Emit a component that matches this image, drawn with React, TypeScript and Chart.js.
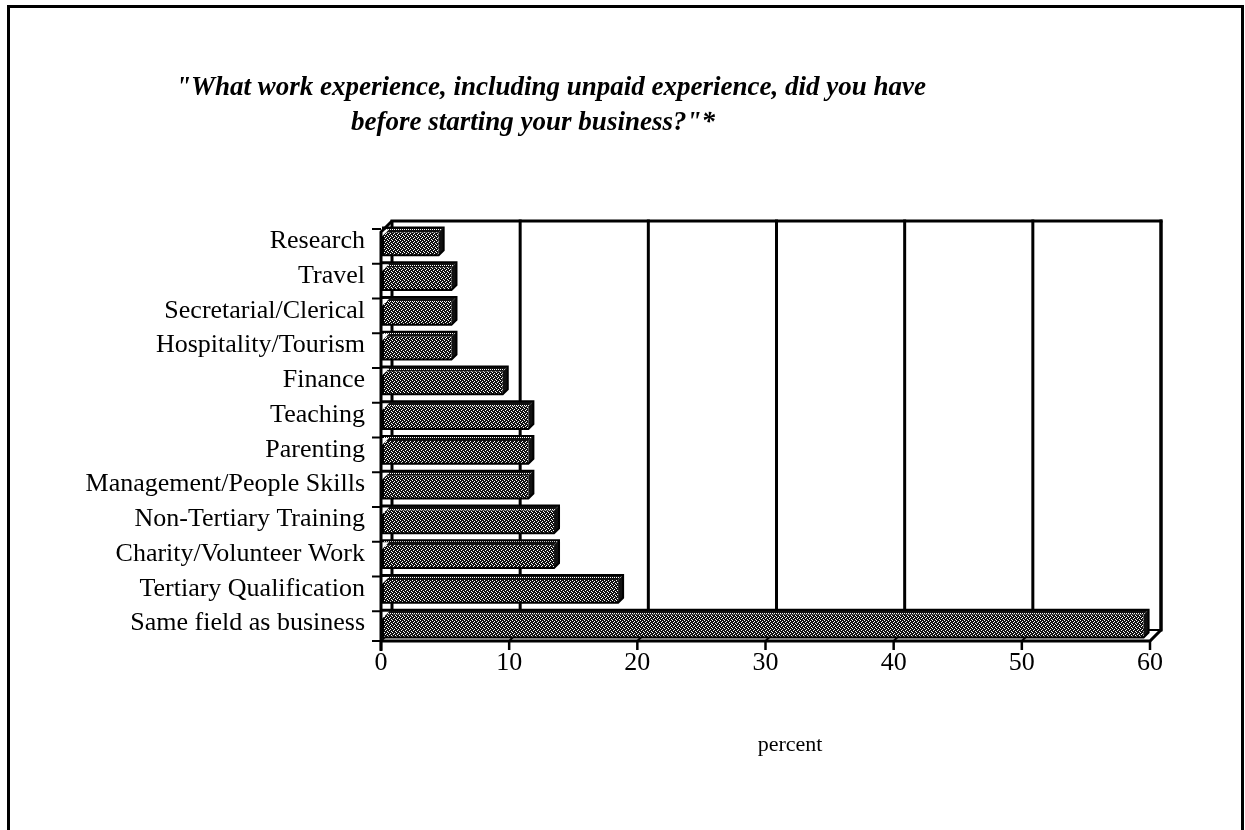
import React, { useEffect, useRef } from "react";
import { Chart, registerables } from "chart.js";

Chart.register(...registerables);

const categories = [
  "Research",
  "Travel",
  "Secretarial/Clerical",
  "Hospitality/Tourism",
  "Finance",
  "Teaching",
  "Parenting",
  "Management/People Skills",
  "Non-Tertiary Training",
  "Charity/Volunteer Work",
  "Tertiary Qualification",
  "Same field as business",
];

const percentValues = [4.5, 5.5, 5.5, 5.5, 9.5, 11.5, 11.5, 11.5, 13.5, 13.5, 18.5, 59.5];

const xTicks = [0, 10, 20, 30, 40, 50, 60];

const titleLines = [
  '"What work experience, including unpaid experience, did you have',
  'before starting your business?"*',
];

const axisTitle = "percent";

const SERIF = '"Liberation Serif", "Times New Roman", serif';
const DEPTH = 11; // depth of the back wall
const BAR_DEPTH = 5; // depth of each bar

function makePattern(ctx: CanvasRenderingContext2D, dots: number[][]) {
  const c = document.createElement("canvas");
  c.width = 4;
  c.height = 4;
  const g = c.getContext("2d")!;
  g.fillStyle = "#111";
  g.fillRect(0, 0, 4, 4);
  g.fillStyle = "#fff";
  dots.forEach(([x, y]) => g.fillRect(x, y, 1, 1));
  return ctx.createPattern(c, "repeat")!;
}

const frame3d = {
  id: "frame3d",
  beforeDatasetsDraw(chart: any) {
    const { ctx, chartArea, scales } = chart;
    const xs = scales.x;
    const bottom = chartArea.bottom;
    const left = chartArea.left;
    const right = chartArea.right;
    const backTop = chartArea.top - 3;
    ctx.save();
    ctx.strokeStyle = "#000";
    ctx.lineCap = "square";

    // outer frame
    ctx.lineWidth = 3;
    ctx.strokeRect(8.5, 6.5, 1234, 900);

    // back wall grid lines
    ctx.lineWidth = 3;
    xTicks.forEach((v) => {
      if (v === 0) return;
      const xb = xs.getPixelForValue(v) + DEPTH;
      ctx.beginPath();
      ctx.moveTo(xb, backTop);
      ctx.lineTo(xb, bottom - DEPTH);
      ctx.stroke();
    });
    // back wall top edge + left back edge
    ctx.beginPath();
    ctx.moveTo(left + DEPTH, bottom - DEPTH);
    ctx.lineTo(left + DEPTH, backTop);
    ctx.lineTo(right + DEPTH, backTop);
    ctx.stroke();
    // floor back edge
    ctx.lineWidth = 2;
    ctx.beginPath();
    ctx.moveTo(left + DEPTH, bottom - DEPTH);
    ctx.lineTo(right + DEPTH, bottom - DEPTH);
    ctx.stroke();
    // floor diagonals at each tick
    xTicks.forEach((v) => {
      const xf = xs.getPixelForValue(v);
      ctx.beginPath();
      ctx.moveTo(xf, bottom);
      ctx.lineTo(xf + DEPTH, bottom - DEPTH);
      ctx.stroke();
    });
    ctx.restore();
  },
  afterDatasetsDraw(chart: any) {
    const { ctx, chartArea, scales } = chart;
    const xs = scales.x;
    const ys = scales.y;
    const meta = chart.getDatasetMeta(0);
    const front = makePattern(ctx, [
      [0, 0],
      [2, 1],
      [1, 2],
      [3, 3],
    ]);
    const topFace = makePattern(ctx, [
      [0, 1],
      [2, 1],
    ]);

    ctx.save();
    meta.data.forEach((bar: any) => {
      const x0 = bar.base + 2;
      const x1 = bar.x;
      const top = bar.y - bar.height / 2;
      const bot = bar.y + bar.height / 2;
      const d = BAR_DEPTH;
      // top face
      ctx.beginPath();
      ctx.moveTo(x0, top);
      ctx.lineTo(x1 + d, top);
      ctx.lineTo(x1, top + d);
      ctx.lineTo(x0, top + d);
      ctx.closePath();
      ctx.fillStyle = topFace;
      ctx.fill();
      // front face
      ctx.fillStyle = front;
      ctx.fillRect(x0, top + d, x1 - x0, bot - top - d);
      // side face
      ctx.beginPath();
      ctx.moveTo(x1, top + d);
      ctx.lineTo(x1 + d, top);
      ctx.lineTo(x1 + d, bot - d);
      ctx.lineTo(x1, bot);
      ctx.closePath();
      ctx.fillStyle = "#111";
      ctx.fill();
      // outline
      ctx.beginPath();
      ctx.moveTo(x0, top);
      ctx.lineTo(x1 + d, top);
      ctx.lineTo(x1 + d, bot - d);
      ctx.lineTo(x1, bot);
      ctx.lineTo(x0, bot);
      ctx.closePath();
      ctx.lineWidth = 2;
      ctx.strokeStyle = "#000";
      ctx.stroke();
      // small left-wall gap
      ctx.beginPath();
      ctx.moveTo(chartArea.left + 1, top + 2);
      ctx.lineTo(chartArea.left + 8, top + 2);
      ctx.lineTo(chartArea.left + 1, top + 9);
      ctx.closePath();
      ctx.fillStyle = "#fff";
      ctx.fill();
    });

    // front left axis + front floor edge
    const bottom = chartArea.bottom;
    const left = chartArea.left;
    const right = chartArea.right;
    const backTop = chartArea.top - 3;
    const frontTop = backTop + DEPTH;
    ctx.strokeStyle = "#000";
    ctx.lineWidth = 3;
    ctx.beginPath();
    ctx.moveTo(left + DEPTH, backTop);
    ctx.lineTo(left, frontTop);
    ctx.lineTo(left, bottom + 10);
    ctx.stroke();
    ctx.beginPath();
    ctx.moveTo(left, bottom);
    ctx.lineTo(right, bottom);
    ctx.lineTo(right + DEPTH, bottom - DEPTH);
    ctx.lineTo(right + DEPTH, backTop);
    ctx.stroke();
    // x ticks below the floor
    ctx.lineWidth = 2.5;
    xTicks.forEach((v) => {
      const xf = xs.getPixelForValue(v);
      ctx.beginPath();
      ctx.moveTo(xf, bottom);
      ctx.lineTo(xf, bottom + 9);
      ctx.stroke();
    });
    // category ticks on the left wall
    const n = categories.length;
    const slot = (ys.getPixelForValue(n - 1) - ys.getPixelForValue(0)) / (n - 1);
    ctx.lineWidth = 2;
    for (let i = 0; i <= n; i++) {
      const y = i < n ? ys.getPixelForValue(i) - slot / 2 + 5 : bottom;
      ctx.beginPath();
      ctx.moveTo(left - 9, y);
      ctx.lineTo(left, y);
      ctx.stroke();
    }

    // axis title
    ctx.fillStyle = "#000";
    ctx.textBaseline = "middle";
    ctx.textAlign = "center";
    ctx.font = `22px ${SERIF}`;
    ctx.fillText(axisTitle, 790, 745);

    // chart title
    ctx.font = `bold italic 27px ${SERIF}`;
    ctx.fillText(titleLines[0], 551, 88);
    ctx.fillText(titleLines[1], 533, 123);
    ctx.restore();
  },
};

export default function App() {
  const ref = useRef<HTMLCanvasElement>(null);
  useEffect(() => {
    const chart = new Chart(ref.current!, {
      type: "bar",
      data: {
        labels: categories,
        datasets: [
          {
            data: percentValues,
            backgroundColor: "rgba(0,0,0,0)",
            borderWidth: 0,
            barPercentage: 0.8,
            categoryPercentage: 1,
          },
        ],
      },
      options: {
        indexAxis: "y",
        animation: false,
        responsive: false,
        maintainAspectRatio: false,
        layout: { padding: { top: 224, bottom: 70, left: 0, right: 95 } },
        plugins: { legend: { display: false }, tooltip: { enabled: false } },
        scales: {
          x: {
            min: 0,
            max: 60,
            afterFit: (s: any) => {
              s.height = 119;
            },
            afterBuildTicks: (s: any) => {
              s.ticks = xTicks.map((v) => ({ value: v }));
            },
            grid: { display: false, drawTicks: false },
            border: { display: false },
            ticks: {
              color: "#000",
              font: { family: SERIF, size: 26 },
              padding: 7,
              maxRotation: 0,
            },
          },
          y: {
            afterFit: (s: any) => {
              s.width = 381;
            },
            grid: { display: false, drawTicks: false },
            border: { display: false },
            ticks: {
              color: "#000",
              font: { family: SERIF, size: 26 },
              padding: 16,
              autoSkip: false,
            },
          },
        },
      },
      plugins: [frame3d],
    });
    return () => chart.destroy();
  }, []);
  return (
    <div style={{ position: "absolute", left: 0, top: 0, width: 1245, height: 830, background: "#fff" }}>
      <canvas ref={ref} width={1245} height={830} />
    </div>
  );
}
